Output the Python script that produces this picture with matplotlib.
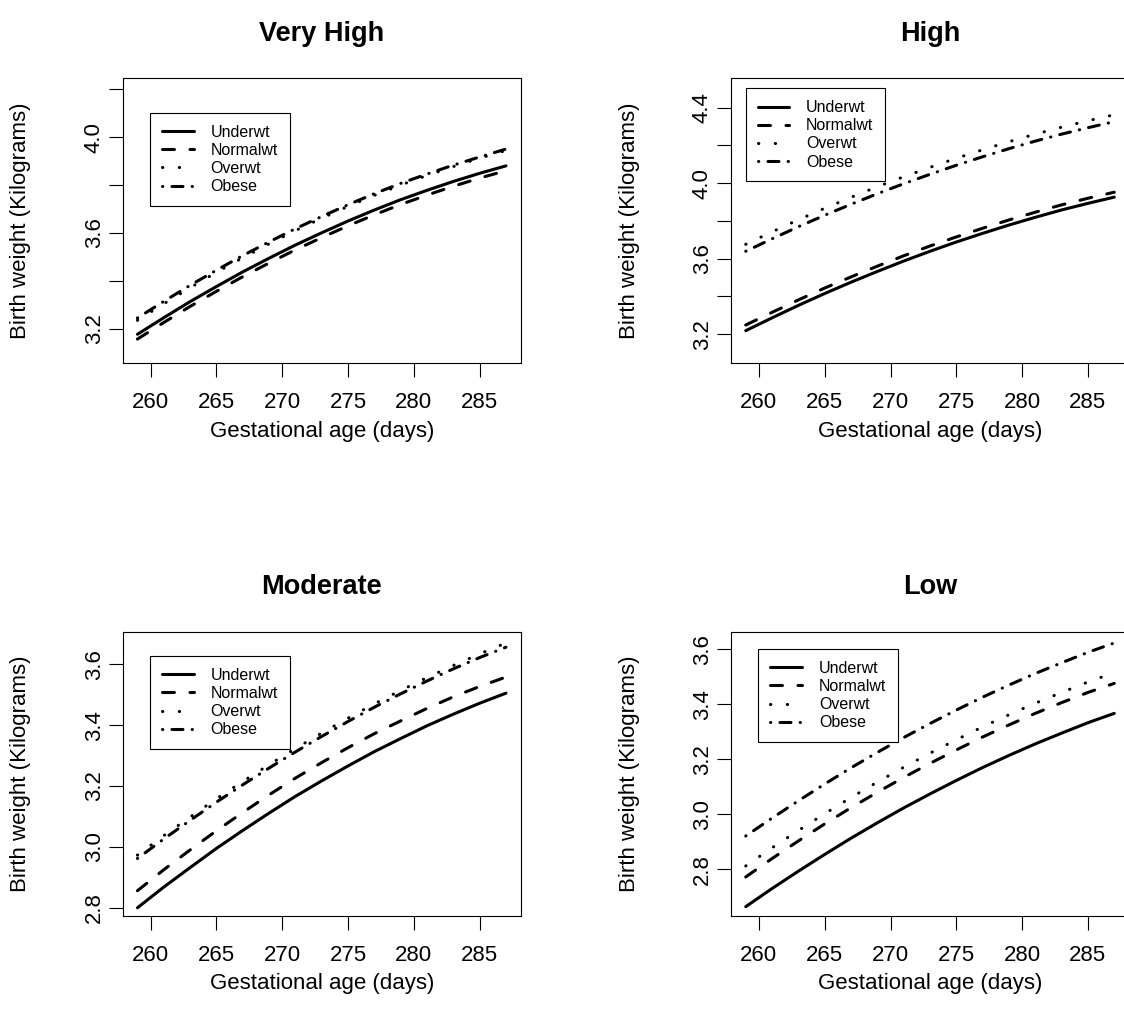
import matplotlib
matplotlib.use("Agg")
import matplotlib.pyplot as plt

plt.rcParams['font.family'] = ['Liberation Sans', 'DejaVu Sans']

# gestational age (days) at which the fitted curves were read
days = [259, 261, 263, 265, 267, 269, 271, 273, 275, 277, 279, 281, 283, 285, 287]
groups = ["Underwt", "Normalwt", "Overwt", "Obese"]
titles = ["Very High", "High", "Moderate", "Low"]

very_high_underwt = [3.178, 3.247, 3.314, 3.377, 3.438, 3.495, 3.550, 3.601, 3.650, 3.696, 3.739, 3.778, 3.815, 3.849, 3.880]
very_high_normalwt = [3.158, 3.227, 3.294, 3.357, 3.418, 3.475, 3.530, 3.581, 3.630, 3.676, 3.719, 3.758, 3.795, 3.829, 3.860]
very_high_overwt = [3.236, 3.305, 3.372, 3.436, 3.497, 3.555, 3.610, 3.662, 3.711, 3.757, 3.800, 3.840, 3.877, 3.912, 3.944]
very_high_obese = [3.246, 3.315, 3.382, 3.445, 3.506, 3.563, 3.618, 3.669, 3.718, 3.764, 3.807, 3.846, 3.883, 3.917, 3.950]

high_underwt = [3.218, 3.286, 3.352, 3.415, 3.475, 3.532, 3.587, 3.639, 3.688, 3.734, 3.778, 3.819, 3.858, 3.893, 3.926]
high_normalwt = [3.248, 3.315, 3.381, 3.444, 3.503, 3.560, 3.615, 3.667, 3.715, 3.761, 3.805, 3.846, 3.885, 3.920, 3.952]
high_overwt = [3.676, 3.742, 3.806, 3.867, 3.925, 3.981, 4.034, 4.084, 4.132, 4.177, 4.220, 4.260, 4.297, 4.331, 4.363]
high_obese = [3.639, 3.705, 3.769, 3.830, 3.888, 3.944, 3.997, 4.047, 4.095, 4.140, 4.183, 4.223, 4.260, 4.294, 4.326]

moderate_underwt = [2.800, 2.868, 2.932, 2.995, 3.054, 3.111, 3.166, 3.217, 3.266, 3.313, 3.356, 3.398, 3.436, 3.472, 3.505]
moderate_normalwt = [2.856, 2.925, 2.990, 3.053, 3.113, 3.171, 3.226, 3.277, 3.326, 3.372, 3.414, 3.455, 3.493, 3.527, 3.558]
moderate_overwt = [2.973, 3.037, 3.098, 3.158, 3.215, 3.270, 3.323, 3.374, 3.423, 3.470, 3.514, 3.556, 3.596, 3.634, 3.670]
moderate_obese = [2.962, 3.026, 3.087, 3.147, 3.204, 3.259, 3.312, 3.363, 3.412, 3.459, 3.503, 3.545, 3.585, 3.622, 3.656]

low_underwt = [2.664, 2.730, 2.793, 2.854, 2.913, 2.969, 3.023, 3.074, 3.123, 3.170, 3.214, 3.256, 3.295, 3.333, 3.367]
low_normalwt = [2.772, 2.839, 2.903, 2.965, 3.024, 3.080, 3.134, 3.185, 3.234, 3.281, 3.325, 3.367, 3.406, 3.443, 3.476]
low_overwt = [2.812, 2.878, 2.941, 3.002, 3.061, 3.117, 3.171, 3.222, 3.271, 3.318, 3.362, 3.404, 3.443, 3.481, 3.515]
low_obese = [2.921, 2.986, 3.049, 3.110, 3.169, 3.225, 3.279, 3.330, 3.379, 3.426, 3.470, 3.512, 3.551, 3.589, 3.623]

xticks = [260, 265, 270, 275, 280, 285]
very_high_yticks = [3.2, 3.4, 3.6, 3.8, 4.0, 4.2]
very_high_ylabels = ["3.2", "", "3.6", "", "4.0", ""]
high_yticks = [3.2, 3.4, 3.6, 3.8, 4.0, 4.2, 4.4]
high_ylabels = ["3.2", "", "3.6", "", "4.0", "", "4.4"]
low_yticks = [2.8, 3.0, 3.2, 3.4, 3.6]
low_ylabels = ["2.8", "3.0", "3.2", "3.4", "3.6"]

panel_series = [
    [very_high_underwt, very_high_normalwt, very_high_overwt, very_high_obese],
    [high_underwt, high_normalwt, high_overwt, high_obese],
    [moderate_underwt, moderate_normalwt, moderate_overwt, moderate_obese],
    [low_underwt, low_normalwt, low_overwt, low_obese],
]
panel_yticks = [
    (very_high_yticks, very_high_ylabels),
    (high_yticks, high_ylabels),
    (low_yticks, low_ylabels),
    (low_yticks, low_ylabels),
]

# layout (pixels of the 1124x1026 canvas) -------------------------------
W, H = 1124, 1026
box_w = 398
boxes = [(122.7, 78.3, 285), (731, 78.3, 285), (122.7, 631.7, 284.3), (731, 631.7, 284.3)]
ylims = [(3.057, 4.245), (3.045, 4.556), (2.773, 3.707), (2.630, 3.664)]
xlim = (257.88, 288.12)
legend_anchor = [(0.0686, 0.879), (0.0369, 0.965), (0.0686, 0.9145), (0.0686, 0.939)]

LW = 2.2
styles = [
    dict(linestyle="-"),
    dict(dashes=(3.9, 5.1)),
    dict(dashes=(0.1, 5.4)),
    dict(dashes=(0.1, 3.0, 3.6, 3.0)),
]


def draw_panel(ax, k):
    for series, name, st in zip(panel_series[k], groups, styles):
        ax.plot(days, series, color="black", lw=LW, label=name,
                dash_capstyle="round", solid_capstyle="round", **st)

    ax.set_xlim(*xlim)
    ax.set_ylim(*ylims[k])
    ax.set_xticks(xticks)
    ax.set_xticklabels([str(t) for t in xticks])
    ticks, labels = panel_yticks[k]
    ax.set_yticks(ticks)
    ax.set_yticklabels(labels)

    for sp in ax.spines.values():
        sp.set_linewidth(0.8)
        sp.set_color("black")
    ax.tick_params(direction="out", length=10, width=0.8, labelsize=16, color="black")
    ax.tick_params(axis="x", pad=11)
    ax.tick_params(axis="y", pad=3, labelrotation=90)
    plt.setp(ax.get_yticklabels(), va="center")

    ax.set_title(titles[k], fontsize=19.5, fontweight="bold", pad=27)
    ax.set_xlabel("Gestational age (days)", fontsize=16, va="center")
    ax.xaxis.set_label_coords(0.5, -68 / boxes[k][2])
    ax.set_ylabel("Birth weight (Kilograms)", fontsize=16, va="center")
    ax.yaxis.set_label_coords(-102 / box_w, 0.5)

    leg = ax.legend(loc="upper left", bbox_to_anchor=legend_anchor[k], borderaxespad=0,
                    fontsize=11.5, fancybox=False, framealpha=1, handlelength=2.0,
                    handletextpad=1.05, borderpad=0.74, labelspacing=0.2)
    leg.get_frame().set_edgecolor("black")
    leg.get_frame().set_linewidth(0.8)


fig = plt.figure(figsize=(W / 100, H / 100), dpi=100)
for k, (left, top, h) in enumerate(boxes):
    ax = fig.add_axes([left / W, (H - top - h) / H, box_w / W, h / H])
    draw_panel(ax, k)

fig.savefig("out.png", dpi=100)
